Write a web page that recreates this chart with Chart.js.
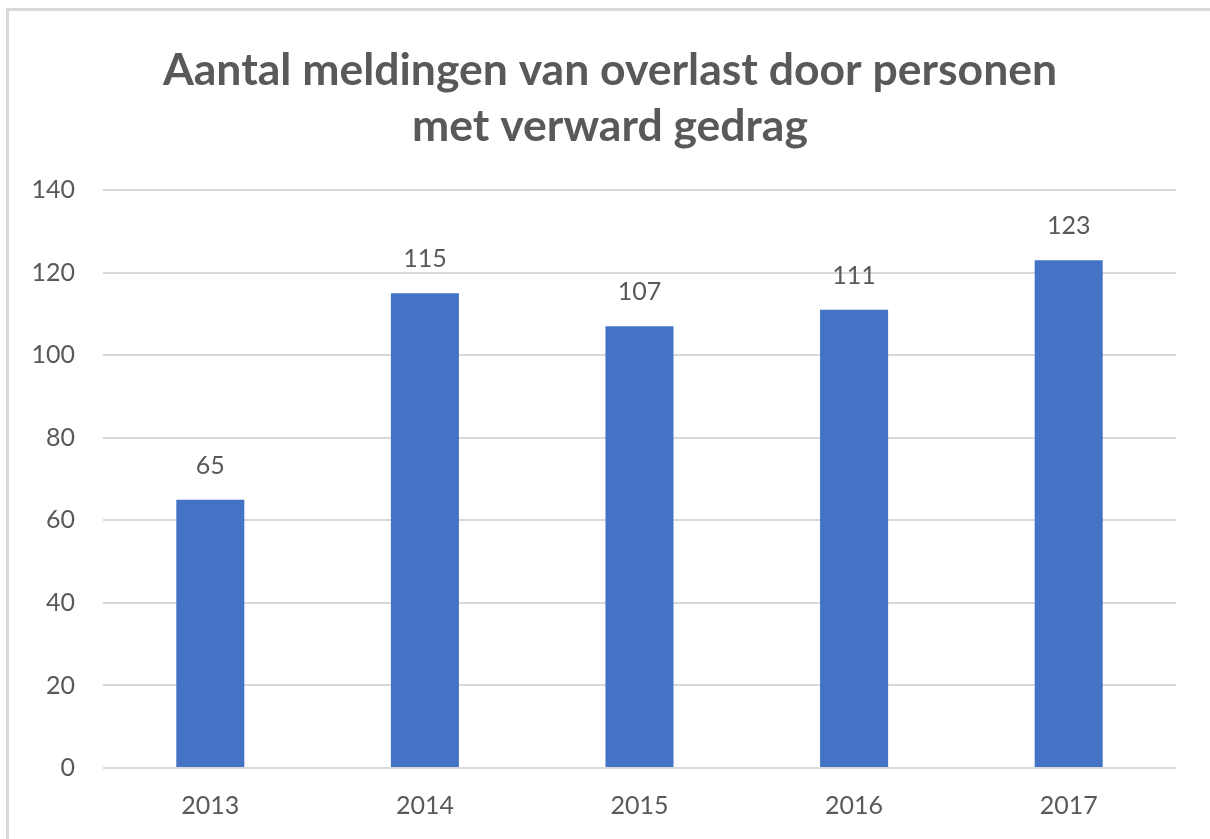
<!DOCTYPE html>
<html>
<head>
<meta charset="utf-8">
<script src="https://cdn.jsdelivr.net/npm/chart.js@4.4.0/dist/chart.umd.min.js"></script>
<style>
  html, body { margin: 0; padding: 0; background: #fff; }
  #wrap { position: absolute; left: 0; top: 0; width: 1210px; height: 839px; }
  #frame { position: absolute; left: 6px; top: 8px; width: 1210px; height: 840px;
           border-left: 3px solid #d9d9d9; border-top: 3px solid #d9d9d9; box-sizing: border-box; }
  canvas { position: absolute; left: 0; top: 0; }
</style>
</head>
<body>
<div id="wrap">
  <div id="frame"></div>
  <canvas id="c" width="1210" height="839"></canvas>
</div>
<script>
const titleLines = ["Aantal meldingen van overlast door personen", "met verward gedrag"];
const categories = ["2013", "2014", "2015", "2016", "2017"];
const values = [65, 115, 107, 111, 123];
const yMin = 0, yMax = 140, yStep = 20;

const FONT = "Lato, 'Open Sans', sans-serif";
const TEXT = "#595959";

const valueLabels = {
  id: 'valueLabels',
  afterDatasetsDraw(chart) {
    const ctx = chart.ctx;
    ctx.save();
    ctx.fillStyle = TEXT;
    ctx.font = "25px " + FONT;
    ctx.textAlign = "center";
    ctx.textBaseline = "middle";
    chart.getDatasetMeta(0).data.forEach((bar, i) => {
      ctx.fillText(String(values[i]), bar.x, bar.y - 34);
    });
    ctx.restore();
  }
};

new Chart(document.getElementById('c'), {
  type: 'bar',
  data: {
    labels: categories,
    datasets: [{
      data: values,
      backgroundColor: '#4472c4',
      borderWidth: 0,
      categoryPercentage: 1,
      barPercentage: 0.317
    }]
  },
  options: {
    responsive: false,
    animation: false,
    layout: { padding: { left: 22, right: 12, top: 43, bottom: 0 } },
    plugins: {
      legend: { display: false },
      tooltip: { enabled: false },
      title: {
        display: true,
        text: titleLines,
        color: TEXT,
        font: { family: FONT, size: 44.5, weight: 'bold', lineHeight: 1.26 },
        padding: { top: 0, bottom: 35 }
      }
    },
    scales: {
      x: {
        afterFit(s) { s.height = 71; },
        grid: { display: false },
        border: { display: false },
        ticks: { color: TEXT, font: { family: FONT, size: 25 }, padding: 15 }
      },
      y: {
        min: yMin, max: yMax,
        afterFit(s) { s.width = 81; },
        grid: { color: '#d9d9d9', lineWidth: 2, drawTicks: false },
        border: { display: false },
        ticks: { stepSize: yStep, color: TEXT, font: { family: FONT, size: 25 }, padding: 28 }
      },
      yRightSpacer: {
        position: 'right',
        display: true,
        min: yMin, max: yMax,
        afterFit(s) { s.width = 22; },
        grid: { display: false, drawOnChartArea: false },
        border: { display: false },
        ticks: { display: false }
      }
    }
  },
  plugins: [valueLabels]
});
</script>
</body>
</html>
